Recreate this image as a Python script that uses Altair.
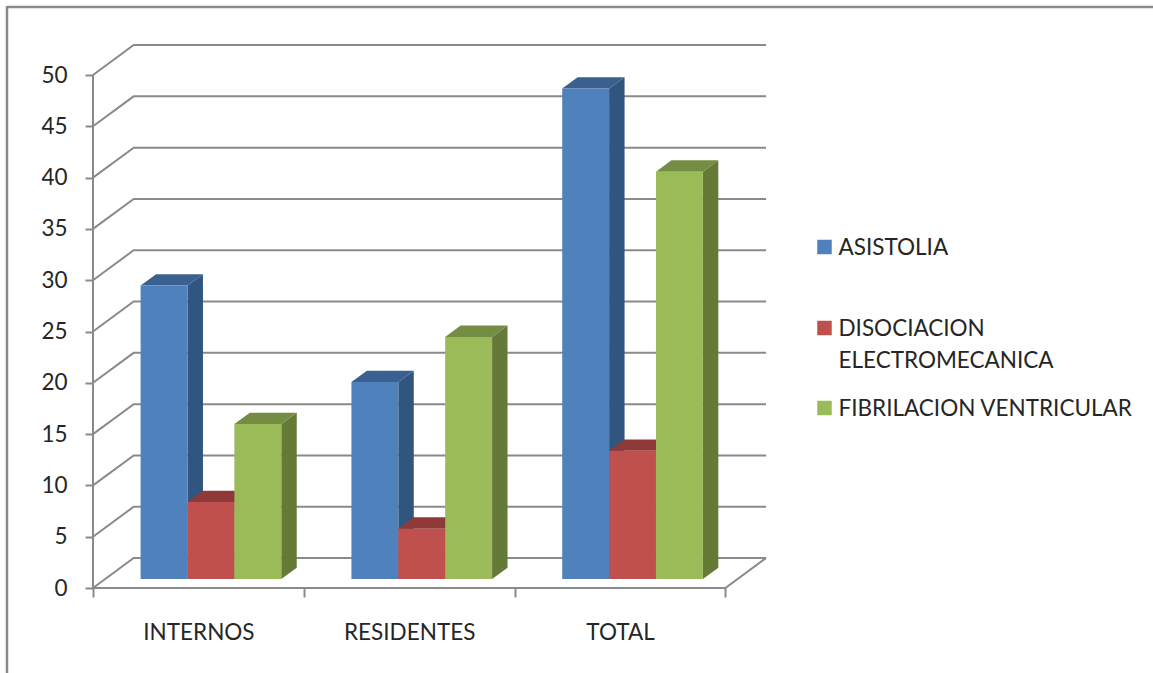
import altair as alt
import pandas as pd

# Chart values
categories = ["INTERNOS", "RESIDENTES", "TOTAL"]
series_names = ["ASISTOLIA", "DISOCIACION\nELECTROMECANICA", "FIBRILACION VENTRICULAR"]
asistolia = [28.6, 19.2, 47.8]
disociacion = [7.5, 4.9, 12.5]
fibrilacion = [15.1, 23.6, 39.7]
y_ticks = list(range(0, 55, 5))

# Face colours per series: front, top, side
front_colors = ["#4F81BD", "#C0504D", "#9BBB59"]
top_colors = ["#3A6090", "#8F3A38", "#748C43"]
side_colors = ["#30557F", "#7F3331", "#667A38"]

# Oblique projection of the depth axis, in data units for depth = 1
DEPTH_X = 0.193
DEPTH_Y = 2.92
BAR_WIDTH = 0.2224
CAT_GAP = 0.168
DEPTH_FRONT = 0.30
DEPTH_BACK = 0.68

W, H = 674, 544
x_scale = alt.Scale(domain=[0, W / 210.8], range=[0, W], nice=False, zero=False)
y_scale = alt.Scale(domain=[0, H / 10.26], range=[H, 0], nice=False, zero=False)


def wall_lines():
    rows = []
    for v in y_ticks:
        key = f"g{v}"
        rows.append((key, 0, v))
        rows.append((key, DEPTH_X, v + DEPTH_Y))
        rows.append((key, 3 + DEPTH_X, v + DEPTH_Y))
    rows += [("floor", 0, 0), ("floor", 3, 0), ("floor", 3 + DEPTH_X, DEPTH_Y)]
    return pd.DataFrame(rows, columns=["line", "x", "y"])


def bar_faces():
    rows = []
    values = [asistolia, disociacion, fibrilacion]
    for s, vals in enumerate(values):
        for c, v in enumerate(vals):
            left = c + CAT_GAP + s * BAR_WIDTH + DEPTH_FRONT * DEPTH_X
            right = left + BAR_WIDTH
            dx = (DEPTH_BACK - DEPTH_FRONT) * DEPTH_X
            dy = (DEPTH_BACK - DEPTH_FRONT) * DEPTH_Y
            base = DEPTH_FRONT * DEPTH_Y
            top = v + base
            side = f"{s}-{c}-side"
            rows += [
                (side, right, base, top, side_colors[s]),
                (side, right + dx, base + dy, top + dy, side_colors[s]),
            ]
            lid = f"{s}-{c}-top"
            rows += [
                (lid, left, top, top, top_colors[s]),
                (lid, left + dx, top, top + dy, top_colors[s]),
                (lid, right, top, top + dy, top_colors[s]),
                (lid, right + dx, top + dy, top + dy, top_colors[s]),
            ]
            face = f"{s}-{c}-front"
            rows += [
                (face, left, base, top, front_colors[s]),
                (face, right, base, top, front_colors[s]),
            ]
    return pd.DataFrame(rows, columns=["face", "x", "y", "y2", "fill"])


GRAY = "#8A8A8A"
TEXT = "#262626"
FONT = "Lato"
FONT_SIZE = 22.5

category_expr = (
    "datum.value % 1 === 0 ? '' : "
    + str(categories)
    + "[floor(datum.value)]"
)

x_axis = alt.Axis(
    values=[0, 0.5, 1, 1.5, 2, 2.5, 3],
    title=None,
    grid=False,
    domain=False,
    labelExpr=category_expr,
    labelFont=FONT,
    labelFontSize=FONT_SIZE,
    labelColor=TEXT,
    labelPadding=24,
    labelAngle=0,
    labelFlush=False,
    labelOverlap=False,
    tickColor=GRAY,
    tickWidth=2,
    tickSize=9,
    tickOpacity={"condition": {"test": "datum.value % 1 === 0", "value": 1}, "value": 0},
)
y_axis = alt.Axis(
    values=y_ticks,
    title=None,
    grid=False,
    domain=False,
    labelFont=FONT,
    labelFontSize=FONT_SIZE,
    labelColor=TEXT,
    labelPadding=18,
    tickColor=GRAY,
    tickWidth=2,
    tickSize=8,
)

lines = (
    alt.Chart(wall_lines())
    .mark_line(color=GRAY, strokeWidth=2, clip=False)
    .encode(
        x=alt.X("x:Q", scale=x_scale, axis=x_axis),
        y=alt.Y("y:Q", scale=y_scale, axis=y_axis),
        detail="line:N",
    )
)

axis_rule = (
    alt.Chart(pd.DataFrame({"x": [0], "y": [min(y_ticks)], "y2": [max(y_ticks)]}))
    .mark_rule(color=GRAY, strokeWidth=2)
    .encode(x=alt.X("x:Q", scale=x_scale), y=alt.Y("y:Q", scale=y_scale), y2="y2:Q")
)

bars = (
    alt.Chart(bar_faces())
    .mark_area(opacity=1, interpolate="linear", strokeWidth=0.5, line=False)
    .encode(
        x=alt.X("x:Q", scale=x_scale),
        y=alt.Y("y:Q", scale=y_scale),
        y2="y2:Q",
        detail="face:N",
        color=alt.Color("fill:N", scale=None),
    )
)

# Outer frame: top and left edges only
frame_top = alt.Chart(pd.DataFrame({"a": [0]})).mark_rule(color=GRAY, strokeWidth=2.5).encode(
    x=alt.value(-86), x2=alt.value(1060), y=alt.value(-37)
)
frame_left = alt.Chart(pd.DataFrame({"a": [0]})).mark_rule(color=GRAY, strokeWidth=2.5).encode(
    x=alt.value(-86), y=alt.value(-38), y2=alt.value(629)
)

# Legend entries, laid out by hand because the rows are unevenly spaced
legend_layers = []
swatch_y = [203, 284, 364]
label_y = [211, 292, 372]
for name, color, sy, ly in zip(series_names, front_colors, swatch_y, label_y):
    row = pd.DataFrame({"label": [name]})
    legend_layers.append(
        alt.Chart(row).mark_square(color=color, size=210, opacity=1).encode(
            x=alt.value(731.5), y=alt.value(sy)
        )
    )
    legend_layers.append(
        alt.Chart(row)
        .mark_text(
            align="left",
            baseline="alphabetic",
            font=FONT,
            fontSize=FONT_SIZE,
            color=TEXT,
            lineBreak="\n",
            lineHeight=32,
        )
        .encode(x=alt.value(745.5), y=alt.value(ly), text="label:N")
    )

chart = (
    alt.layer(lines, axis_rule, bars, frame_top, frame_left, *legend_layers)
    .properties(
        width=W,
        height=H,
        padding={"left": 93, "top": 44, "right": 386, "bottom": 85},
        autosize=alt.AutoSizeParams(type="none"),
        background="white",
    )
    .configure_view(stroke=None)
)

chart.save("out.html", embed_options={"renderer": "svg", "actions": False})
